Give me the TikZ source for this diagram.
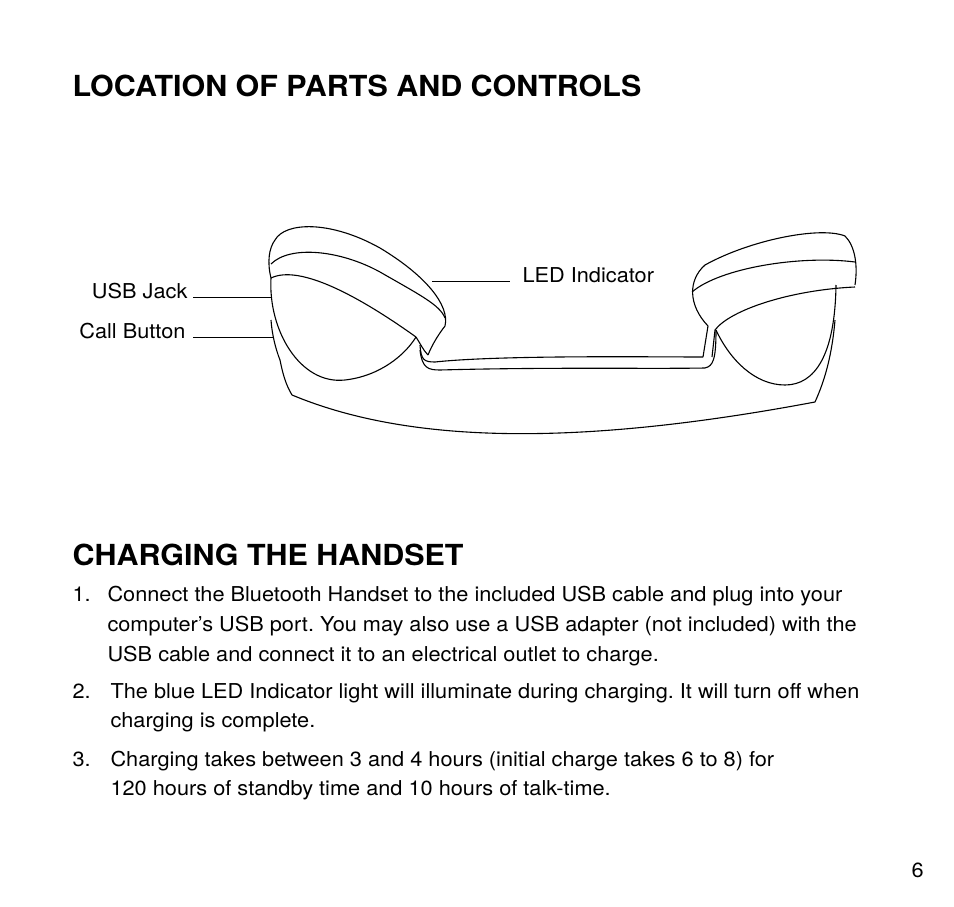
\documentclass[tikz,border=0pt]{standalone}
\usepackage{fontspec}
\setmainfont{TeX Gyre Heros}
\newfontfamily\bodyf[FakeStretch=1.06]{TeX Gyre Heros}
\newfontfamily\ttlf[FakeStretch=1.05]{TeX Gyre Heros}
\frenchspacing
\begin{document}
\begin{tikzpicture}[x=1pt,y=-1pt,line width=1.1pt,
  lbl/.style={anchor=base west,inner sep=0,font=\bodyf\fontsize{20.5}{24}\selectfont},
  ttl/.style={anchor=base west,inner sep=0,font=\ttlf\fontsize{29}{32}\selectfont\bfseries},
  leader/.style={line width=1pt}]
\useasboundingbox (0,0) rectangle (954,907);
\node[ttl] (t1) at (72,96) {LOCATION OF PARTS AND CONTROLS};
\node[ttl] (t2) at (72,565) {CHARGING THE HANDSET};
% handset
\begin{scope}[line join=round]
% body
\draw (280,360) .. controls (283,375) and (286,385) .. (292,395)
  .. controls (400,440) and (560,450) .. (815,402)
  .. controls (825,380) and (832,355) .. (835,320);
% left bowl
\draw (271,278) .. controls (268,330) and (300,385) .. (345,380)
  .. controls (380,376) and (405,355) .. (416,337);
\draw (271,320) .. controls (272,335) and (276,350) .. (280,360);
% left band
\draw (271,278) .. controls (267,262) and (269,248) .. (275,240)
  .. controls (285,222) and (330,220) .. (380,248)
  .. controls (425,275) and (450,305) .. (445,326)
  .. controls (438,335) and (432,345) .. (428,355);
\draw (271,264) .. controls (290,245) and (340,250) .. (380,272)
  .. controls (420,295) and (440,305) .. (445,318);
\draw (271,278) .. controls (300,264) and (360,297) .. (416,337)
  .. controls (420,343) and (423,350) .. (428,355);
% bridge
\draw (420,345) .. controls (421,360) and (424,362) .. (435,362)
  .. controls (500,355) and (650,357) .. (703,357);
\draw (420,350) .. controls (422,368) and (428,370) .. (440,370)
  .. controls (550,367) and (650,369) .. (705,368)
  .. controls (713,366) and (716,360) .. (716,330);
\draw (703,357) -- (708,326);
\draw (712,357) -- (715,330);
% right band
\draw (708,326) .. controls (688,305) and (688,280) .. (705,265)
  .. controls (750,240) and (820,226) .. (845,236)
  .. controls (855,246) and (858,265) .. (855,285);
\draw (692,292) .. controls (720,268) and (800,255) .. (855,262);
\draw (715,330) .. controls (730,310) and (790,290) .. (855,287);
% right bowl
\draw (716,330) .. controls (730,360) and (755,385) .. (785,385)
  .. controls (815,385) and (835,355) .. (836,285);
\end{scope}
% labels
\node[lbl,anchor=base east] (usb) at (188,298) {USB Jack};
\node[lbl,anchor=base east] (call) at (186,338) {Call Button};
\node[lbl] (led) at (522,282) {LED Indicator};
\coordinate (usbE) at (271,297);
\coordinate (callE) at (273,337);
\coordinate (ledE) at (432,281);
\draw[leader] (193,297) -- (usbE);
\draw[leader] (193,337) -- (callE);
\draw[leader] (ledE) -- (510,281);
% list
\node[lbl] (n1) at (72,601) {1.};
\node[lbl] (l1a) at (107,601) {Connect the Bluetooth Handset to the included USB cable and plug into your};
\node[lbl] (l1b) at (107,631) {computer’s USB port. You may also use a USB adapter (not included) with the};
\node[lbl] (l1c) at (107,661) {USB cable and connect it to an electrical outlet to charge.};
\node[lbl] (n2) at (72,698) {2.};
\node[lbl] (l2a) at (110,698) {The blue LED Indicator light will illuminate during charging. It will turn off when};
\node[lbl] (l2b) at (110,727) {charging is complete.};
\node[lbl] (n3) at (72,766) {3.};
\node[lbl] (l3a) at (110,766) {Charging takes between 3 and 4 hours (initial charge takes 6 to 8) for};
\node[lbl] (l3b) at (110,795) {120 hours of standby time and 10 hours of talk-time.};
\node[lbl] (pg) at (911,877) {6};
\end{tikzpicture}
\end{document}
